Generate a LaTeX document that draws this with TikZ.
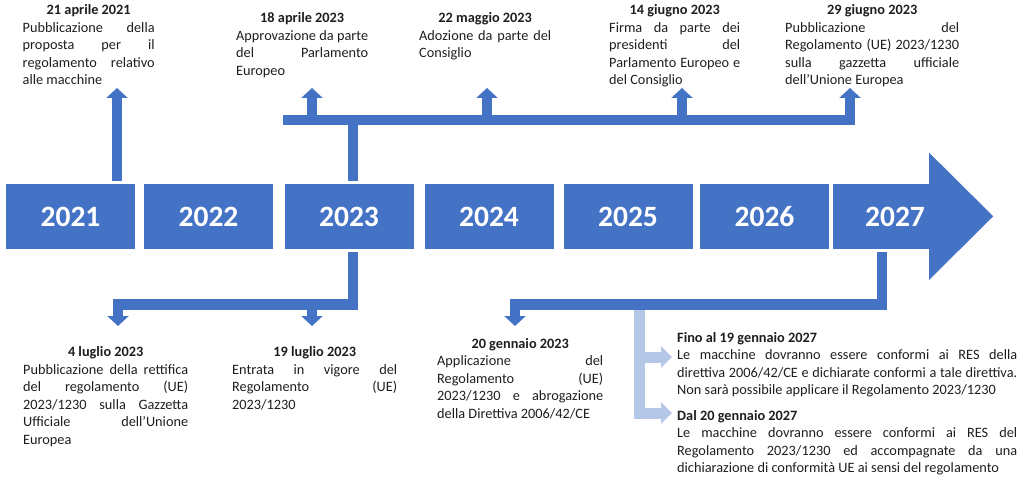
\documentclass[tikz,border=0pt]{standalone}
\usepackage{fontspec}
\setmainfont{Carlito}
\usetikzlibrary{arrows.meta}
\definecolor{boxblue}{HTML}{4472C4}
\definecolor{paleblue}{HTML}{B4C7E7}
\definecolor{ink}{HTML}{1E1E1E}
\setlength{\parindent}{0pt}
\tolerance=10000 \hbadness=10000 \hfuzz=6pt

\begin{document}
\begin{tikzpicture}[x=1pt, y=-1pt,
		yearbox/.style={fill=boxblue, text=white, font=\fontsize{29.5}{32}\selectfont\bfseries,
			minimum width=129pt, minimum height=65pt, inner sep=0pt},
		yeartext/.style={text=white, font=\fontsize{29.5}{32}\selectfont\bfseries, inner sep=0pt},
		event/.style={anchor=north west, inner sep=0pt, text=ink, align=justify,
			font=\fontsize{14.3}{17.5}\selectfont},
		beam/.style={draw=boxblue, line width=10.5pt},
		beamarrow/.style={beam, -{Triangle[width=21pt,length=10pt]}},
		palearrow/.style={draw=paleblue, line width=11pt, -{Triangle[width=21pt,length=11pt]}}]
	\useasboundingbox (0,0) rectangle (1024,486);

	% years
	\node[yearbox] (y2021) at (70.5,216.5) {2021};
	\node[yearbox] (y2022) at (208.5,216.5) {2022};
	\node[yearbox] (y2023) at (349,216.5) {2023};
	\node[yearbox] (y2024) at (489,216.5) {2024};
	\node[yearbox] (y2025) at (628,216.5) {2025};
	\node[yearbox] (y2026) at (764.5,216.5) {2026};
	\node[yearbox, minimum width=96pt] (y2027) at (881,216.5) {};
	\fill[boxblue] (y2027.north east) -- ++(0,-31) -- ++(64,63.5) -- ++(-64,63.5) -- (y2027.south east) -- cycle;
	\node[yeartext] (t2027) at (895,216.5) {2027};

	% events above
	\node[event, text width=132pt] (e2021) at (22.5,2.5) {\centerline{\strut\bfseries 21 aprile 2021}
		Pubblicazione della\linebreak proposta per il\linebreak regolamento relativo\linebreak alle macchine};
	\node[event, text width=132pt] (e0418) at (236,10.2) {\centerline{\strut\bfseries 18 aprile 2023}
		Approvazione da parte\linebreak del Parlamento\linebreak Europeo};
	\node[event, text width=132pt] (e0522) at (419,10.2) {\centerline{\strut\bfseries 22 maggio 2023}
		Adozione da parte del\linebreak Consiglio};
	\node[event, text width=131pt] (e0614) at (609,2.5) {\centerline{\strut\bfseries 14 giugno 2023}
		Firma da parte dei\linebreak presidenti del\linebreak Parlamento Europeo e\linebreak del Consiglio};
	\node[event, text width=174pt] (e0629) at (785,2.5) {\centerline{\strut\bfseries 29 giugno 2023}
		Pubblicazione del\linebreak Regolamento (UE) 2023/1230\linebreak sulla gazzetta ufficiale\linebreak dell’Unione Europea};

	% events below
	\node[event, text width=165pt] (e0704) at (23,344.5) {\centerline{\strut\bfseries 4 luglio 2023}
		Pubblicazione della rettifica\linebreak del regolamento (UE)\linebreak 2023/1230 sulla Gazzetta\linebreak Ufficiale dell’Unione\linebreak Europea};
	\node[event, text width=165pt] (e0719) at (232,344.5) {\centerline{\strut\bfseries 19 luglio 2023}
		Entrata in vigore del\linebreak Regolamento (UE)\linebreak 2023/1230};
	\node[event, text width=166pt] (e0120) at (437,335.7) {\centerline{\strut\bfseries 20 gennaio 2023}
		Applicazione del\linebreak Regolamento (UE)\linebreak 2023/1230 e abrogazione\linebreak della Direttiva 2006/42/CE};
	\node[event, text width=340pt] (e27a) at (677,329.7) {\strut{\bfseries Fino al 19 gennaio 2027}\\
		Le macchine dovranno essere conformi ai RES della\linebreak direttiva 2006/42/CE e dichiarate conformi a tale direttiva.\linebreak Non sarà possibile applicare il Regolamento 2023/1230};
	\node[event, text width=340pt] (e27b) at (677,407.7) {\strut{\bfseries Dal 20 gennaio 2027}\\
		Le macchine dovranno essere conformi ai RES del\linebreak Regolamento 2023/1230 ed accompagnate da una\linebreak dichiarazione di conformità UE ai sensi del regolamento};

	% joints and tips
	\coordinate (k23) at (353,0);
	\coordinate (k27) at (882,0);
	\coordinate (k25) at (639,310);
	\coordinate (tbar) at (283,120);
	\coordinate (lbar) at (0,304.5);
	\coordinate (u2021) at (117,88);
	\coordinate (u0418) at (312,88);
	\coordinate (u0522) at (487,88);
	\coordinate (u0614) at (682,88);
	\coordinate (u0629) at (850,88);
	\coordinate (d0704) at (118,326);
	\coordinate (d0719) at (312,326);
	\coordinate (d0120) at (515,326);
	\coordinate (r27a) at (672,357);
	\coordinate (r27b) at (672,413);

	% connectors
	\draw[beamarrow, shorten <=3pt] (u2021 |- y2021.north) -- (u2021);
	\draw[beam, shorten <=3pt] (k23 |- y2023.north) -- (k23 |- tbar);
	\draw[beamarrow] (tbar) -| (u0629);
	\draw[beamarrow] (u0418 |- tbar) -- (u0418);
	\draw[beamarrow] (u0522 |- tbar) -- (u0522);
	\draw[beamarrow] (u0614 |- tbar) -- (u0614);
	\draw[beamarrow, shorten <=3pt] (k23 |- y2023.south) |- (d0704 |- lbar) -- (d0704);
	\draw[beamarrow] (d0719 |- lbar) -- (d0719);
	\draw[beamarrow, shorten <=3pt] (k27 |- y2027.south) |- (d0120 |- lbar) -- (d0120);
	\draw[palearrow] (k25) |- (r27b);
	\draw[palearrow] (k25 |- r27a) -- (r27a);
\end{tikzpicture}
\end{document}
